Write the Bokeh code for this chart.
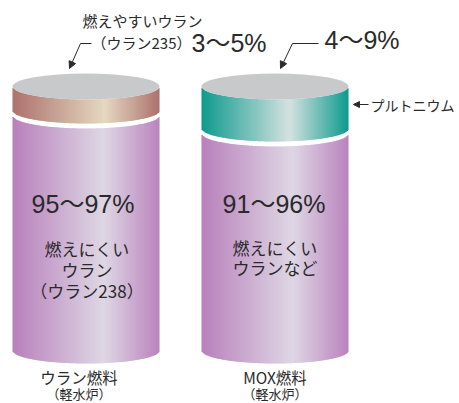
import numpy as np
from bokeh.plotting import figure
from bokeh.models import Range1d, Arrow, NormalHead
from bokeh.core.properties import value
from bokeh.embed import file_html
from bokeh.resources import INLINE

# ---- data ----
categories = ["ウラン燃料", "MOX燃料"]
reactor = ["（軽水炉）", "（軽水炉）"]
fissile_pct = ["3〜5%", "4〜9%"]
fertile_pct = ["95〜97%", "91〜96%"]
fertile_lines_u = ["燃えにくい", "ウラン", "（ウラン238）"]
fertile_lines_mox = ["燃えにくい", "ウランなど"]
fissile_lines_u = ["燃えやすいウラン", "（ウラン235）"]
fissile_name_mox = "プルトニウム"

# ---- styles / geometry ----
JP = "Noto Sans CJK JP"
NUM = "Liberation Sans, Noto Sans CJK JP"
TXT = "#2a2a2a"
cyl_left = [12, 201]
cyl_w = 147
top_y = 86
ell_b = 13
band_bottom = [110, 128]
gap = 5
body_bottom = 350

purple = [(0.0, "#b47ab8"), (0.62, "#ddd5e3"), (1.0, "#b67dba")]
brown = [(0.0, "#a86a65"), (0.63, "#e3d6bd"), (1.0, "#a86a65")]
teal = [(0.0, "#009588"), (0.60, "#d2e0de"), (1.0, "#009588")]
band_stops = [brown, teal]


def hex2rgb(h):
    h = h.lstrip("#")
    return [int(h[i:i + 2], 16) for i in (0, 2, 4)]


def grad(stops, t):
    for (t0, c0), (t1, c1) in zip(stops[:-1], stops[1:]):
        if t0 <= t <= t1:
            f = (t - t0) / (t1 - t0)
            a, b = hex2rgb(c0), hex2rgb(c1)
            r = [round(a[k] + (b[k] - a[k]) * f) for k in range(3)]
            return "#%02x%02x%02x" % tuple(r)
    return stops[-1][1]


W, H = 459, 403
p = figure(width=W, height=H, x_range=Range1d(0, W), y_range=Range1d(H, 0),
           output_backend="svg", toolbar_location=None, min_border=0,
           x_axis_location=None, y_axis_location=None)
p.grid.visible = False
p.outline_line_color = None
p.background_fill_color = "white"


def strips(left, y_top, y_bot, stops):
    a = cyl_w / 2
    cx = left + a
    xs = np.arange(left, left + cyl_w, 1.0)
    xc = xs + 0.5
    s = np.sqrt(np.clip(1 - ((xc - cx) / a) ** 2, 0, 1))
    t = (xc - left) / cyl_w
    cols = [grad(stops, v) for v in t]
    p.quad(left=xs, right=np.minimum(xs + 1.4, left + cyl_w), top=y_top + ell_b * s,
           bottom=y_bot + ell_b * s, fill_color=cols, line_color=None)


for i in range(2):
    L = cyl_left[i]
    strips(L, band_bottom[i] + gap, body_bottom, purple)
    strips(L, top_y, band_bottom[i], band_stops[i])
    p.ellipse(x=[L + cyl_w / 2], y=[top_y], width=cyl_w, height=2 * ell_b,
              fill_color="#c8c9cb", line_color=None)


def txt(x, y, t, size, font=JP, align="center"):
    p.text(x=[x], y=[y], text=[t], text_font=value(font), text_font_size=size,
           text_align=align, text_baseline="middle", text_color=TXT)


# top labels
txt(142, 20, fissile_lines_u[0], "15px")
txt(191, 42, fissile_lines_u[1], "15px", align="right")
txt(191, 42, fissile_pct[0], "25px", NUM, align="left")
txt(324, 39, fissile_pct[1], "25px", NUM, align="left")
txt(370, 104, fissile_name_mox, "14px", align="left")

# arrows
p.line([91, 80], [43, 43], line_color=TXT, line_width=1)
p.add_layout(Arrow(x_start=80, y_start=43, x_end=69, y_end=68, line_color=TXT, line_width=1,
                   end=NormalHead(size=7, fill_color=TXT, line_color=TXT)))
p.line([318, 292], [43, 43], line_color=TXT, line_width=1)
p.add_layout(Arrow(x_start=292, y_start=43, x_end=280, y_end=68, line_color=TXT, line_width=1,
                   end=NormalHead(size=7, fill_color=TXT, line_color=TXT)))
p.add_layout(Arrow(x_start=368, y_start=104, x_end=353, y_end=104, line_color=TXT, line_width=1,
                   end=NormalHead(size=6, fill_color=TXT, line_color=TXT)))

# body labels
cx = [L + cyl_w / 2 for L in cyl_left]
txt(cx[0] - 3, 203, fertile_pct[0], "25px", NUM)
txt(cx[1] - 1, 203, fertile_pct[1], "25px", NUM)
for k, t in enumerate(fertile_lines_u):
    txt(cx[0] + 1, 248 + 21 * k, t, "17px")
for k, t in enumerate(fertile_lines_mox):
    txt(cx[1], 247 + 20 * k, t, "17px")

# bottom labels
for i in range(2):
    txt(cx[i] - 7 if i == 0 else cx[i], 376, categories[i], "15.5px")
    txt(cx[i] - 7 if i == 0 else cx[i], 393, reactor[i], "13px")

open("out.html", "w").write(file_html(p, INLINE))
